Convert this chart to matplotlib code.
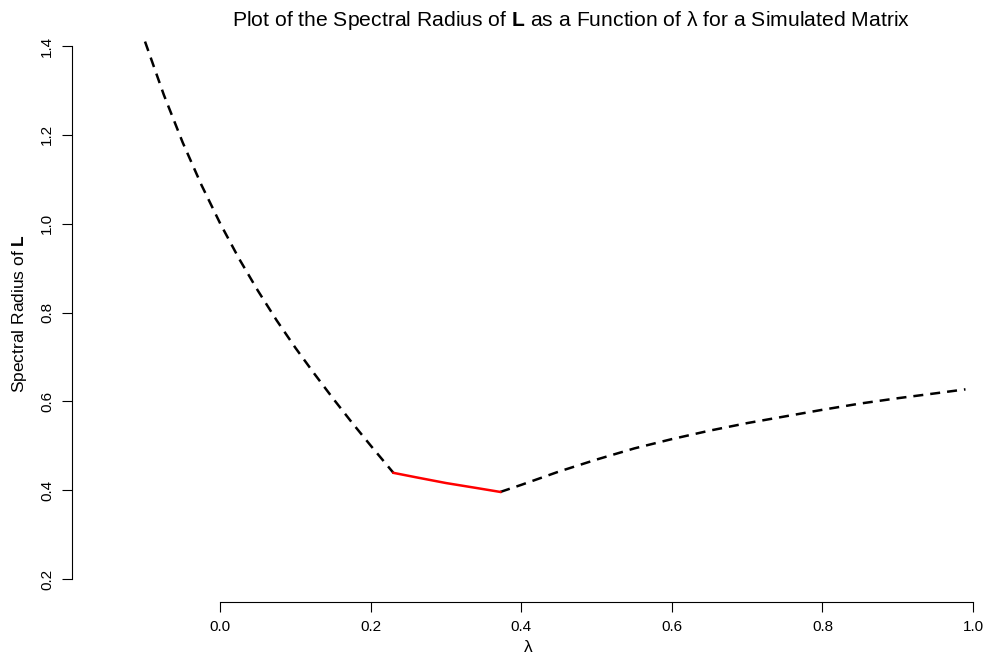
import matplotlib.pyplot as plt

plt.rcParams['font.family'] = ['Liberation Sans', 'DejaVu Sans']
plt.rcParams['mathtext.fontset'] = 'custom'
plt.rcParams['mathtext.rm'] = 'Liberation Sans'
plt.rcParams['mathtext.bf'] = 'Liberation Sans:bold'

# spectral radius
lam_left = [-0.1, -0.075, -0.05, -0.025, 0.0, 0.025, 0.05, 0.075, 0.1, 0.125, 0.15, 0.175, 0.2, 0.23]
rho_left = [1.41, 1.29, 1.183, 1.087, 1.0, 0.921, 0.849, 0.782, 0.72, 0.662, 0.606, 0.552, 0.50, 0.439]

lam_mid = [0.23, 0.26, 0.30, 0.34, 0.372]
rho_mid = [0.439, 0.429, 0.416, 0.405, 0.396]

lam_right = [0.372, 0.4, 0.45, 0.5, 0.55, 0.6, 0.65, 0.7, 0.75, 0.8, 0.85, 0.9, 0.95, 0.99]
rho_right = [0.396, 0.412, 0.442, 0.469, 0.494, 0.515, 0.534, 0.551, 0.566, 0.581, 0.595, 0.607, 0.618, 0.627]

xticks = [0.0, 0.2, 0.4, 0.6, 0.8, 1.0]
yticks = [0.2, 0.4, 0.6, 0.8, 1.0, 1.2, 1.4]

fig = plt.figure(figsize=(9.85, 6.6), dpi=100)
ax = fig.add_axes([72 / 985, (660 - 602) / 660, (985 - 72) / 985, (602 - 25) / 660])

dash = (0, (4, 2.8))
ax.plot(lam_left, rho_left, color='black', lw=1.8, linestyle=dash)
ax.plot(lam_right, rho_right, color='black', lw=1.8, linestyle=dash)
ax.plot(lam_mid, rho_mid, color='red', lw=1.8)

ax.set_xlim(-0.197, (985 - 220) / 753)
ax.set_ylim(0.2 - 23 / 444.2, 1.4 + 21 / 444.2)

for s in ['top', 'right']:
    ax.spines[s].set_visible(False)
ax.spines['left'].set_bounds(0.2, 1.4)
ax.spines['bottom'].set_bounds(0.0, 1.0)

ax.set_xticks(xticks)
ax.set_yticks(yticks)
ax.set_xticklabels(['%.1f' % v for v in xticks])
ax.set_yticklabels(['%.1f' % v for v in yticks], rotation=90, va='center')
ax.tick_params(direction='out', length=7, labelsize=11, pad=6)

ax.set_xlabel('λ', fontsize=12.5, labelpad=4)
ax.set_ylabel(r'Spectral Radius of $\mathbf{L}$', fontsize=12.5, labelpad=8)
fig.text(0.58, 1 - 20 / 660, r'Plot of the Spectral Radius of $\mathbf{L}$ as a Function of λ for a Simulated Matrix',
         ha='center', va='center', fontsize=15.2)

fig.savefig('out.png', dpi=100)
